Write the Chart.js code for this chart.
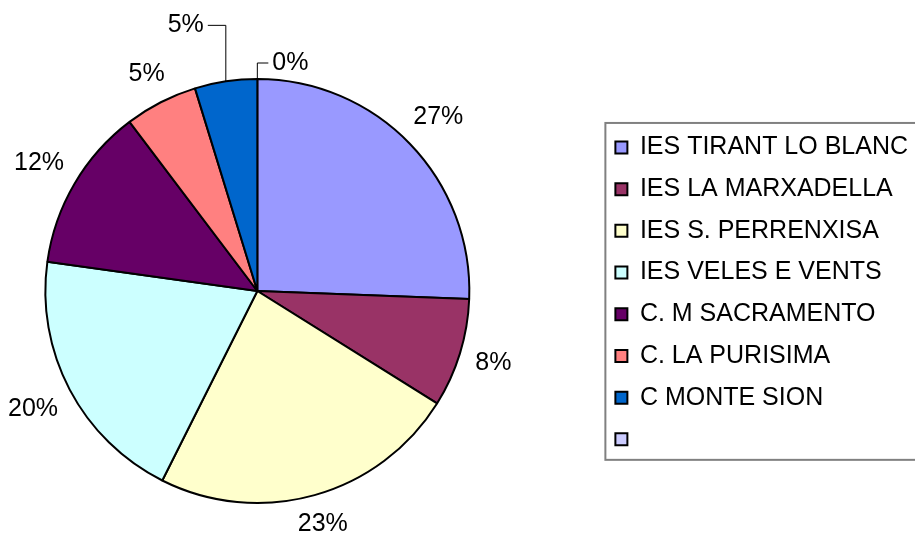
<!DOCTYPE html>
<html>
<head>
<meta charset="utf-8">
<title>Alumnes per centre</title>
<script src="https://cdn.jsdelivr.net/npm/chart.js@4.4.0/dist/chart.umd.min.js"></script>
<style>
  html, body { margin: 0; padding: 0; background: #fff; overflow: hidden; width: 915px; height: 534px; }
  /* canvas is wider than the window and pulled left, so the pie sits left of centre
     and the legend frame runs off the right edge like in the original */
  canvas { display: block; margin-left: -84px; }
</style>
</head>
<body>
<canvas id="pie" width="1002" height="534"></canvas>
<script>
const schools = ['IES TIRANT LO BLANC', 'IES LA MARXADELLA', 'IES S. PERRENXISA', 'IES VELES E VENTS', 'C. M SACRAMENTO', 'C. LA PURISIMA', 'C MONTE SION', ''];
const shares = [25.6, 8.3, 23.5, 19.8, 12.5, 5.55, 4.75, 0];
const pctLabels = ['27%', '8%', '23%', '20%', '12%', '5%', '5%', '0%'];
const sliceColors = ['#9999FF', '#993366', '#FFFFCC', '#CCFFFF', '#660066', '#FF8080', '#0066CC', '#CCCCFF'];

// the two labels crowded at the top get a leader line (rise up, then run sideways)
const leaderRise = [0, 0, 0, 0, 0, 0, 56, 16];
const leaderRun = [0, 0, 0, 0, 0, 0, -18, 11];

const FONT = "'Liberation Sans', Arial, sans-serif";

const pctLabelPlugin = {
    id: 'pctLabels',
    afterDatasetsDraw(chart) {
        const ctx = chart.ctx;
        const arcs = chart.getDatasetMeta(0).data;
        ctx.save();
        ctx.font = '25px ' + FONT;
        ctx.fillStyle = '#000';
        ctx.strokeStyle = '#000';
        ctx.lineWidth = 1;
        ctx.textBaseline = 'middle';
        arcs.forEach((arc, i) => {
            const mid = (arc.startAngle + arc.endAngle) / 2;
            const dx = Math.cos(mid), dy = Math.sin(mid);
            const text = pctLabels[i];
            const w = ctx.measureText(text).width;
            if (leaderRise[i]) {
                const x0 = arc.x + dx * arc.outerRadius;
                const y0 = arc.y + dy * arc.outerRadius;
                const y1 = y0 - leaderRise[i];
                const x1 = x0 + leaderRun[i];
                ctx.beginPath();
                ctx.moveTo(x0, y0);
                ctx.lineTo(x0, y1);
                ctx.lineTo(x1, y1);
                ctx.stroke();
                ctx.textAlign = leaderRun[i] < 0 ? 'right' : 'left';
                ctx.fillText(text, x1 + (leaderRun[i] < 0 ? -4 : 4), y1);
            } else {
                const r = arc.outerRadius + 15 + Math.abs(dx) * w / 2 + Math.abs(dy) * 9;
                ctx.textAlign = 'center';
                ctx.fillText(text, arc.x + dx * r, arc.y + dy * r);
            }
        });
        ctx.restore();
    }
};

// grey frame round the legend, open to the right like the original
const legendFramePlugin = {
    id: 'legendFrame',
    afterDraw(chart) {
        const boxes = chart.legend.legendHitBoxes;
        const first = boxes[0], last = boxes[boxes.length - 1];
        const ctx = chart.ctx;
        ctx.save();
        ctx.strokeStyle = '#808080';
        ctx.lineWidth = 2;
        ctx.strokeRect(first.left - 10, first.top - 12, chart.width, last.top + last.height - first.top + 20);
        ctx.restore();
    }
};

new Chart(document.getElementById('pie'), {
    type: 'pie',
    data: {
        labels: schools,
        datasets: [{
            data: shares,
            backgroundColor: sliceColors,
            borderColor: '#000',
            borderWidth: 2
        }]
    },
    options: {
        responsive: false,
        animation: false,
        devicePixelRatio: 1,
        radius: 212,
        layout: {
            padding: { left: 0, right: 0, top: 48, bottom: 0 }
        },
        plugins: {
            tooltip: { enabled: false },
            legend: {
                position: 'right',
                // empty title only nudges the legend rows a few pixels down
                title: { display: true, text: '', padding: 0, font: { size: 4 } },
                labels: {
                    boxWidth: 12,
                    boxHeight: 12,
                    padding: 16.7,
                    color: '#000',
                    font: { family: FONT, size: 25 }
                }
            }
        }
    },
    plugins: [pctLabelPlugin, legendFramePlugin]
});
</script>
</body>
</html>
